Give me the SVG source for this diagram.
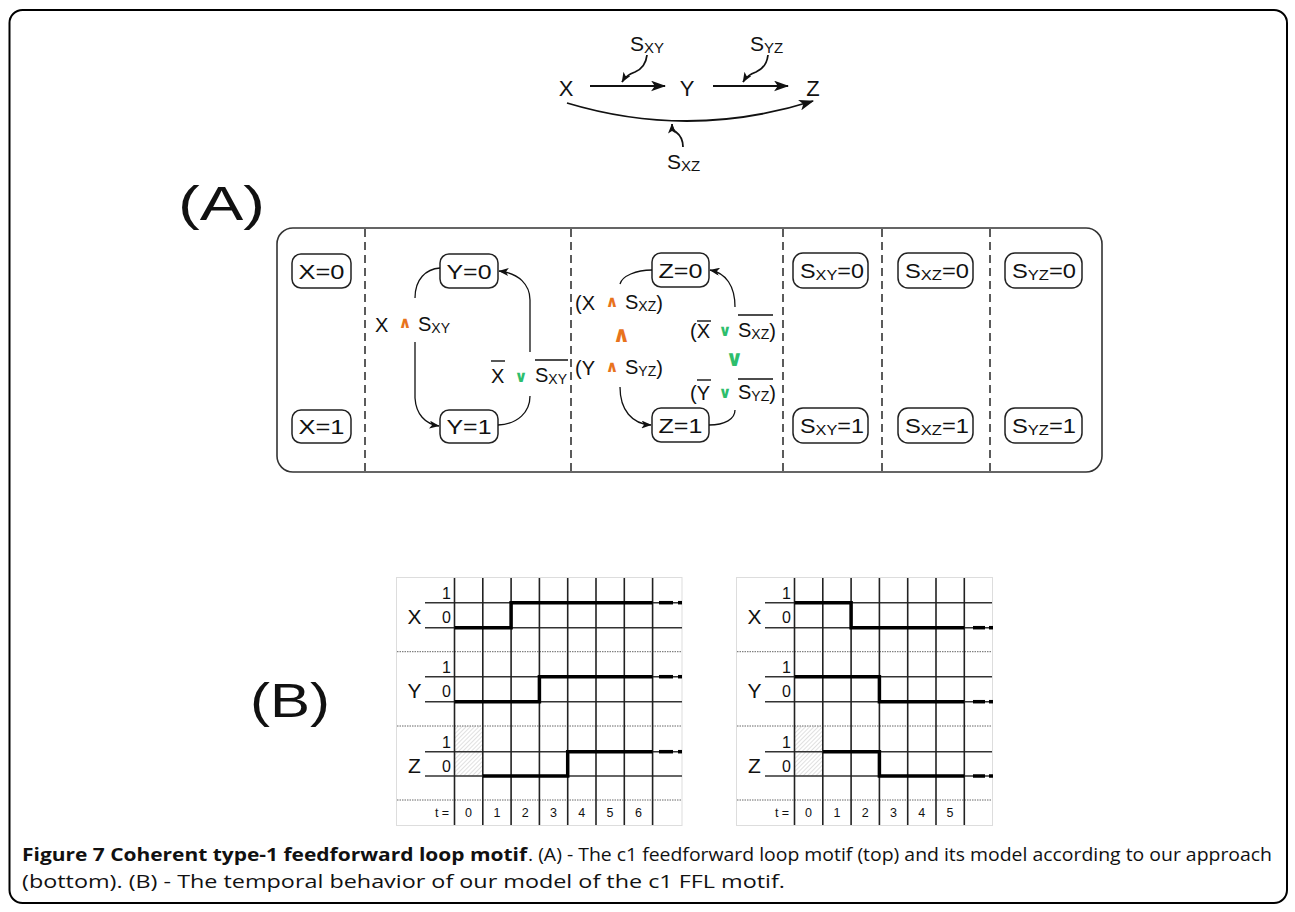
<svg xmlns="http://www.w3.org/2000/svg" width="1295" height="912" viewBox="0 0 1295 912">
<style>
text{font-family:"Liberation Sans",Arial,sans-serif;fill:#111}
.big{font-size:22px}
.lbl{font-size:20px}
.nd{font-size:20px}
.sub{font-size:14px}
.node{fill:#fff;stroke:#222;stroke-width:1.5}
.dash{stroke:#333;stroke-width:1.6;stroke-dasharray:8 5;fill:none}
.con{fill:none;stroke:#111;stroke-width:1.3}
.con2{fill:none;stroke:#111;stroke-width:1.8}
.and{font-family:"DejaVu Sans",sans-serif;font-weight:bold;fill:#E8731C}
.or{font-family:"DejaVu Sans",sans-serif;font-weight:bold;fill:#2DBE6C}
.ov{stroke:#111;stroke-width:1.4}
.grid{stroke:#222;stroke-width:1.6}
.hl{stroke:#333;stroke-width:1.4}
.dot{stroke:#666;stroke-width:1;stroke-dasharray:1.5 1}
.step{fill:none;stroke:#000;stroke-width:3.5}
.ch{font-size:16px}
.cl{font-size:21px}
.tl{font-size:12.5px}
.cap{font-family:"Open Sans",sans-serif;font-size:18px}
</style>
<defs>
<marker id="ahb" viewBox="0 0 14 10" refX="13" refY="5" markerWidth="15" markerHeight="11" markerUnits="userSpaceOnUse" orient="auto"><path d="M0,0 L14,5 L0,10 L3.5,5 z" fill="#111"/></marker>
<marker id="ah" viewBox="0 0 10 8" refX="9.5" refY="4" markerWidth="10" markerHeight="8" markerUnits="userSpaceOnUse" orient="auto"><path d="M0,0 L10,4 L0,8 L2.5,4 z" fill="#111"/></marker>
<pattern id="hatch" width="3" height="3" patternUnits="userSpaceOnUse" patternTransform="rotate(45)"><line x1="0" y1="0" x2="0" y2="3" stroke="#bbb" stroke-width="0.9"/></pattern>
</defs>
<rect width="1295" height="912" fill="#fff"/>
<rect x="9.5" y="10" width="1277.5" height="893" rx="13" fill="none" stroke="#000" stroke-width="2"/>

<!-- Top motif -->
<g id="motif">
<g id="m-X"><text class="big" x="566" y="96" text-anchor="middle">X</text></g>
<g id="m-Y"><text class="big" x="687" y="96" text-anchor="middle">Y</text></g>
<g id="m-Z"><text class="big" x="813" y="96" text-anchor="middle">Z</text></g>
<g id="m-SXY"><text x="630" y="51" font-size="21">S<tspan font-size="15" dy="2">XY</tspan></text></g>
<g id="m-SYZ"><text x="750" y="51" font-size="21">S<tspan font-size="15" dy="2">YZ</tspan></text></g>
<g id="m-SXZ"><text x="667" y="169" font-size="21">S<tspan font-size="15" dy="2">XZ</tspan></text></g>
</g>
<g id="motif-connectors">
<line class="con2" x1="590" y1="86" x2="665" y2="86" marker-end="url(#ahb)"/>
<line class="con2" x1="713" y1="86" x2="788" y2="86" marker-end="url(#ahb)"/>
<path class="con2" d="M567,103 Q690,140 813,101" marker-end="url(#ahb)"/>
<path class="con2" d="M647,55 C646,64 642,69 635,72 C629,74 625,77 622,82" marker-end="url(#ah)"/>
<path class="con2" d="M768,55 C767,64 763,69 756,72 C750,74 746,77 743,82" marker-end="url(#ah)"/>
<path class="con2" d="M683,147 C683,139 680,135 676,132 C673,130 672,128 672,124" marker-end="url(#ah)"/>
</g>

<text x="178" y="220" font-size="48" textLength="87" lengthAdjust="spacingAndGlyphs">(A)</text>
<text x="250" y="717" font-size="48" textLength="80" lengthAdjust="spacingAndGlyphs">(B)</text>

<!-- Panel A -->
<rect x="277" y="228" width="825" height="244" rx="16" fill="none" stroke="#333" stroke-width="1.6"/>
<g id="dividers">
<line class="dash" x1="365" y1="229" x2="365" y2="471"/>
<line class="dash" x1="571" y1="229" x2="571" y2="471"/>
<line class="dash" x1="783" y1="229" x2="783" y2="471"/>
<line class="dash" x1="882" y1="229" x2="882" y2="471"/>
<line class="dash" x1="990" y1="229" x2="990" y2="471"/>
</g>

<g id="n-X0"><rect class="node" x="292" y="254" width="59" height="34" rx="9"/><text class="nd" x="321.5" y="278.5" text-anchor="middle" textLength="46" lengthAdjust="spacingAndGlyphs">X=0</text></g>
<g id="n-X1"><rect class="node" x="292" y="410" width="59" height="33" rx="9"/><text class="nd" x="321.5" y="434" text-anchor="middle" textLength="46" lengthAdjust="spacingAndGlyphs">X=1</text></g>
<g id="n-Y0"><rect class="node" x="440" y="254" width="58" height="34" rx="9"/><text class="nd" x="469" y="278.5" text-anchor="middle" textLength="45" lengthAdjust="spacingAndGlyphs">Y=0</text></g>
<g id="n-Y1"><rect class="node" x="440" y="410" width="58" height="33" rx="9"/><text class="nd" x="469" y="434" text-anchor="middle" textLength="45" lengthAdjust="spacingAndGlyphs">Y=1</text></g>
<g id="n-Z0"><rect class="node" x="652" y="253" width="57" height="34" rx="9"/><text class="nd" x="680.5" y="277.5" text-anchor="middle" textLength="44" lengthAdjust="spacingAndGlyphs">Z=0</text></g>
<g id="n-Z1"><rect class="node" x="652" y="408" width="57" height="34" rx="9"/><text class="nd" x="680.5" y="432.5" text-anchor="middle" textLength="44" lengthAdjust="spacingAndGlyphs">Z=1</text></g>
<g id="n-SXY0"><rect class="node" x="793" y="253" width="75" height="35" rx="10"/><text class="nd" x="800" y="278" font-size="21" textLength="64" lengthAdjust="spacingAndGlyphs">S<tspan class="sub" dy="2">XY</tspan><tspan dy="-2">=0</tspan></text></g>
<g id="n-SXY1"><rect class="node" x="793" y="408" width="75" height="35" rx="10"/><text class="nd" x="800" y="433" font-size="21" textLength="64" lengthAdjust="spacingAndGlyphs">S<tspan class="sub" dy="2">XY</tspan><tspan dy="-2">=1</tspan></text></g>
<g id="n-SXZ0"><rect class="node" x="898" y="253" width="75" height="35" rx="10"/><text class="nd" x="905" y="278" font-size="21" textLength="64" lengthAdjust="spacingAndGlyphs">S<tspan class="sub" dy="2">XZ</tspan><tspan dy="-2">=0</tspan></text></g>
<g id="n-SXZ1"><rect class="node" x="898" y="408" width="75" height="35" rx="10"/><text class="nd" x="905" y="433" font-size="21" textLength="64" lengthAdjust="spacingAndGlyphs">S<tspan class="sub" dy="2">XZ</tspan><tspan dy="-2">=1</tspan></text></g>
<g id="n-SYZ0"><rect class="node" x="1005" y="253" width="77" height="35" rx="10"/><text class="nd" x="1012" y="278" font-size="21" textLength="64" lengthAdjust="spacingAndGlyphs">S<tspan class="sub" dy="2">YZ</tspan><tspan dy="-2">=0</tspan></text></g>
<g id="n-SYZ1"><rect class="node" x="1005" y="408" width="77" height="35" rx="10"/><text class="nd" x="1012" y="433" font-size="21" textLength="64" lengthAdjust="spacingAndGlyphs">S<tspan class="sub" dy="2">YZ</tspan><tspan dy="-2">=1</tspan></text></g>

<g id="connectors">
<path class="con" d="M440,268 C426,269 415,279 415,298"/>
<path class="con" d="M415,342 L415,398 C416,414 425,424 439,426" marker-end="url(#ah)"/>
<path class="con" d="M498,425 C518,424 530,412 530,396"/>
<path class="con" d="M530,352 L530,300 C530,285 519,273 499,271" marker-end="url(#ah)"/>
<path class="con" d="M652,270 C636,270 622,276 620,284"/>
<path class="con" d="M620,387 C620,410 632,424 651,425" marker-end="url(#ah)"/>
<path class="con" d="M709,425 C725,425 735,419 735,410"/>
<path class="con" d="M735,307 C735,286 726,273 710,270" marker-end="url(#ah)"/>
</g>

<g id="labels">
<text class="lbl" x="375" y="332">X</text>
<text class="and" x="405" y="328" font-size="16" text-anchor="middle">∧</text>
<text class="lbl" x="418" y="331">S<tspan class="sub" dy="2">XY</tspan></text>

<text class="lbl" x="491" y="383">X</text>
<line class="ov" x1="491" y1="361" x2="505" y2="361"/>
<text class="or" x="521" y="382" font-size="16" text-anchor="middle">∨</text>
<text class="lbl" x="535" y="382">S<tspan class="sub" dy="2">XY</tspan></text>
<line class="ov" x1="535" y1="360" x2="568" y2="360"/>

<text class="lbl" x="575" y="310">(X</text>
<text class="and" x="612" y="307" font-size="16" text-anchor="middle">∧</text>
<text class="lbl" x="625" y="309">S<tspan class="sub" dy="2">XZ</tspan><tspan dy="-1">)</tspan></text>
<text class="and" x="621.5" y="342" font-size="22" text-anchor="middle">∧</text>
<text class="lbl" x="575" y="375">(Y</text>
<text class="and" x="612" y="372" font-size="16" text-anchor="middle">∧</text>
<text class="lbl" x="625" y="374">S<tspan class="sub" dy="2">YZ</tspan><tspan dy="-1">)</tspan></text>

<text class="lbl" x="690" y="338">(X</text>
<line class="ov" x1="697" y1="321" x2="711" y2="321"/>
<text class="or" x="725" y="336" font-size="16" text-anchor="middle">∨</text>
<text class="lbl" x="738" y="337">S<tspan class="sub" dy="2">XZ</tspan><tspan dy="-1">)</tspan></text>
<line class="ov" x1="738" y1="315" x2="773" y2="315"/>
<text class="or" x="734.5" y="366" font-size="22" text-anchor="middle">∨</text>
<text class="lbl" x="690" y="400">(Y</text>
<line class="ov" x1="697" y1="380" x2="711" y2="380"/>
<text class="or" x="725" y="398" font-size="16" text-anchor="middle">∨</text>
<text class="lbl" x="738" y="399">S<tspan class="sub" dy="2">YZ</tspan><tspan dy="-1">)</tspan></text>
<line class="ov" x1="738" y1="379" x2="773" y2="379"/>
</g>

<!-- Chart B left -->
<g id="chart-left">
<rect x="396.5" y="577.5" width="285.5" height="248" fill="#fff" stroke="#ddd" stroke-width="1"/>
<rect x="454.5" y="726" width="28.3" height="50" fill="url(#hatch)"/>
<g class="dot">
<line x1="397" y1="651.7" x2="682" y2="651.7"/><line x1="397" y1="726" x2="682" y2="726"/><line x1="397" y1="800" x2="682" y2="800"/>
</g>
<g class="hl">
<line x1="425" y1="602.7" x2="682" y2="602.7"/><line x1="425" y1="627.7" x2="682" y2="627.7"/>
<line x1="425" y1="676.7" x2="682" y2="676.7"/><line x1="425" y1="701.7" x2="682" y2="701.7"/>
<line x1="425" y1="751.7" x2="682" y2="751.7"/><line x1="425" y1="776" x2="682" y2="776"/>
</g>
<g class="grid">
<line x1="454.5" y1="578" x2="454.5" y2="825"/><line x1="482.8" y1="578" x2="482.8" y2="825"/>
<line x1="511.1" y1="578" x2="511.1" y2="825"/><line x1="539.4" y1="578" x2="539.4" y2="825"/>
<line x1="567.7" y1="578" x2="567.7" y2="825"/><line x1="596" y1="578" x2="596" y2="825"/>
<line x1="624.3" y1="578" x2="624.3" y2="825"/><line x1="652.6" y1="578" x2="652.6" y2="825"/>
</g>
<path class="step" d="M454.5,627.7 H511.1 V602.7 H652.6"/>
<path class="step" d="M454.5,701.7 H539.4 V676.7 H652.6"/>
<path class="step" d="M482.8,776 H567.7 V751.7 H652.6"/>
<g class="step" stroke-width="3">
<line x1="659" y1="602.7" x2="673" y2="602.7"/><line x1="678" y1="602.7" x2="682" y2="602.7"/>
<line x1="659" y1="676.7" x2="673" y2="676.7"/><line x1="678" y1="676.7" x2="682" y2="676.7"/>
<line x1="659" y1="751.7" x2="673" y2="751.7"/><line x1="678" y1="751.7" x2="682" y2="751.7"/>
</g>
<g class="ch" text-anchor="middle">
<text x="446.5" y="599">1</text><text x="446.5" y="623">0</text>
<text x="446.5" y="673">1</text><text x="446.5" y="697">0</text>
<text x="446.5" y="748">1</text><text x="446.5" y="772">0</text>
</g>
<g class="cl" text-anchor="middle">
<text x="414.5" y="624">X</text><text x="414.5" y="698">Y</text><text x="414.5" y="773">Z</text>
</g>
<g class="tl" text-anchor="middle">
<text x="442" y="817">t =</text>
<text x="468.6" y="817">0</text><text x="497" y="817">1</text><text x="525.2" y="817">2</text>
<text x="553.5" y="817">3</text><text x="581.8" y="817">4</text><text x="610.1" y="817">5</text><text x="638.4" y="817">6</text>
</g>
</g>

<!-- Chart B right -->
<g id="chart-right">
<rect x="736.5" y="577.5" width="256" height="248" fill="#fff" stroke="#ddd" stroke-width="1"/>
<rect x="794.5" y="726" width="28.3" height="50" fill="url(#hatch)"/>
<g class="dot">
<line x1="737" y1="651.7" x2="992" y2="651.7"/><line x1="737" y1="726" x2="992" y2="726"/><line x1="737" y1="800" x2="992" y2="800"/>
</g>
<g class="hl">
<line x1="765" y1="602.7" x2="992" y2="602.7"/><line x1="765" y1="627.7" x2="992" y2="627.7"/>
<line x1="765" y1="676.7" x2="992" y2="676.7"/><line x1="765" y1="701.7" x2="992" y2="701.7"/>
<line x1="765" y1="751.7" x2="992" y2="751.7"/><line x1="765" y1="776" x2="992" y2="776"/>
</g>
<g class="grid">
<line x1="794.5" y1="578" x2="794.5" y2="825"/><line x1="822.8" y1="578" x2="822.8" y2="825"/>
<line x1="851.1" y1="578" x2="851.1" y2="825"/><line x1="879.4" y1="578" x2="879.4" y2="825"/>
<line x1="907.7" y1="578" x2="907.7" y2="825"/><line x1="936" y1="578" x2="936" y2="825"/>
<line x1="964.3" y1="578" x2="964.3" y2="825"/>
</g>
<path class="step" d="M794.5,602.7 H851.1 V627.7 H964.3"/>
<path class="step" d="M794.5,676.7 H879.4 V701.7 H964.3"/>
<path class="step" d="M822.8,751.7 H879.4 V776 H964.3"/>
<g class="step" stroke-width="3">
<line x1="973" y1="627.7" x2="985" y2="627.7"/><line x1="989" y1="627.7" x2="993" y2="627.7"/>
<line x1="973" y1="701.7" x2="985" y2="701.7"/><line x1="989" y1="701.7" x2="993" y2="701.7"/>
<line x1="973" y1="776" x2="985" y2="776"/><line x1="989" y1="776" x2="993" y2="776"/>
</g>
<g class="ch" text-anchor="middle">
<text x="786.5" y="599">1</text><text x="786.5" y="623">0</text>
<text x="786.5" y="673">1</text><text x="786.5" y="697">0</text>
<text x="786.5" y="748">1</text><text x="786.5" y="772">0</text>
</g>
<g class="cl" text-anchor="middle">
<text x="754.5" y="624">X</text><text x="754.5" y="698">Y</text><text x="754.5" y="773">Z</text>
</g>
<g class="tl" text-anchor="middle">
<text x="782" y="817">t =</text>
<text x="808.6" y="817">0</text><text x="837" y="817">1</text><text x="865.2" y="817">2</text>
<text x="893.5" y="817">3</text><text x="921.8" y="817">4</text><text x="950.1" y="817">5</text>
</g>
</g>

<!-- Caption -->
<g id="caption">
<text class="cap" x="22" y="861" font-weight="bold" textLength="505" lengthAdjust="spacingAndGlyphs">Figure 7 Coherent type-1 feedforward loop motif</text>
<text class="cap" x="528" y="861" textLength="744" lengthAdjust="spacingAndGlyphs">. (A) - The c1 feedforward loop motif (top) and its model according to our approach</text>
<text class="cap" x="22" y="888" textLength="763" lengthAdjust="spacingAndGlyphs">(bottom). (B) - The temporal behavior of our model of the c1 FFL motif.</text>
</g>
</svg>
